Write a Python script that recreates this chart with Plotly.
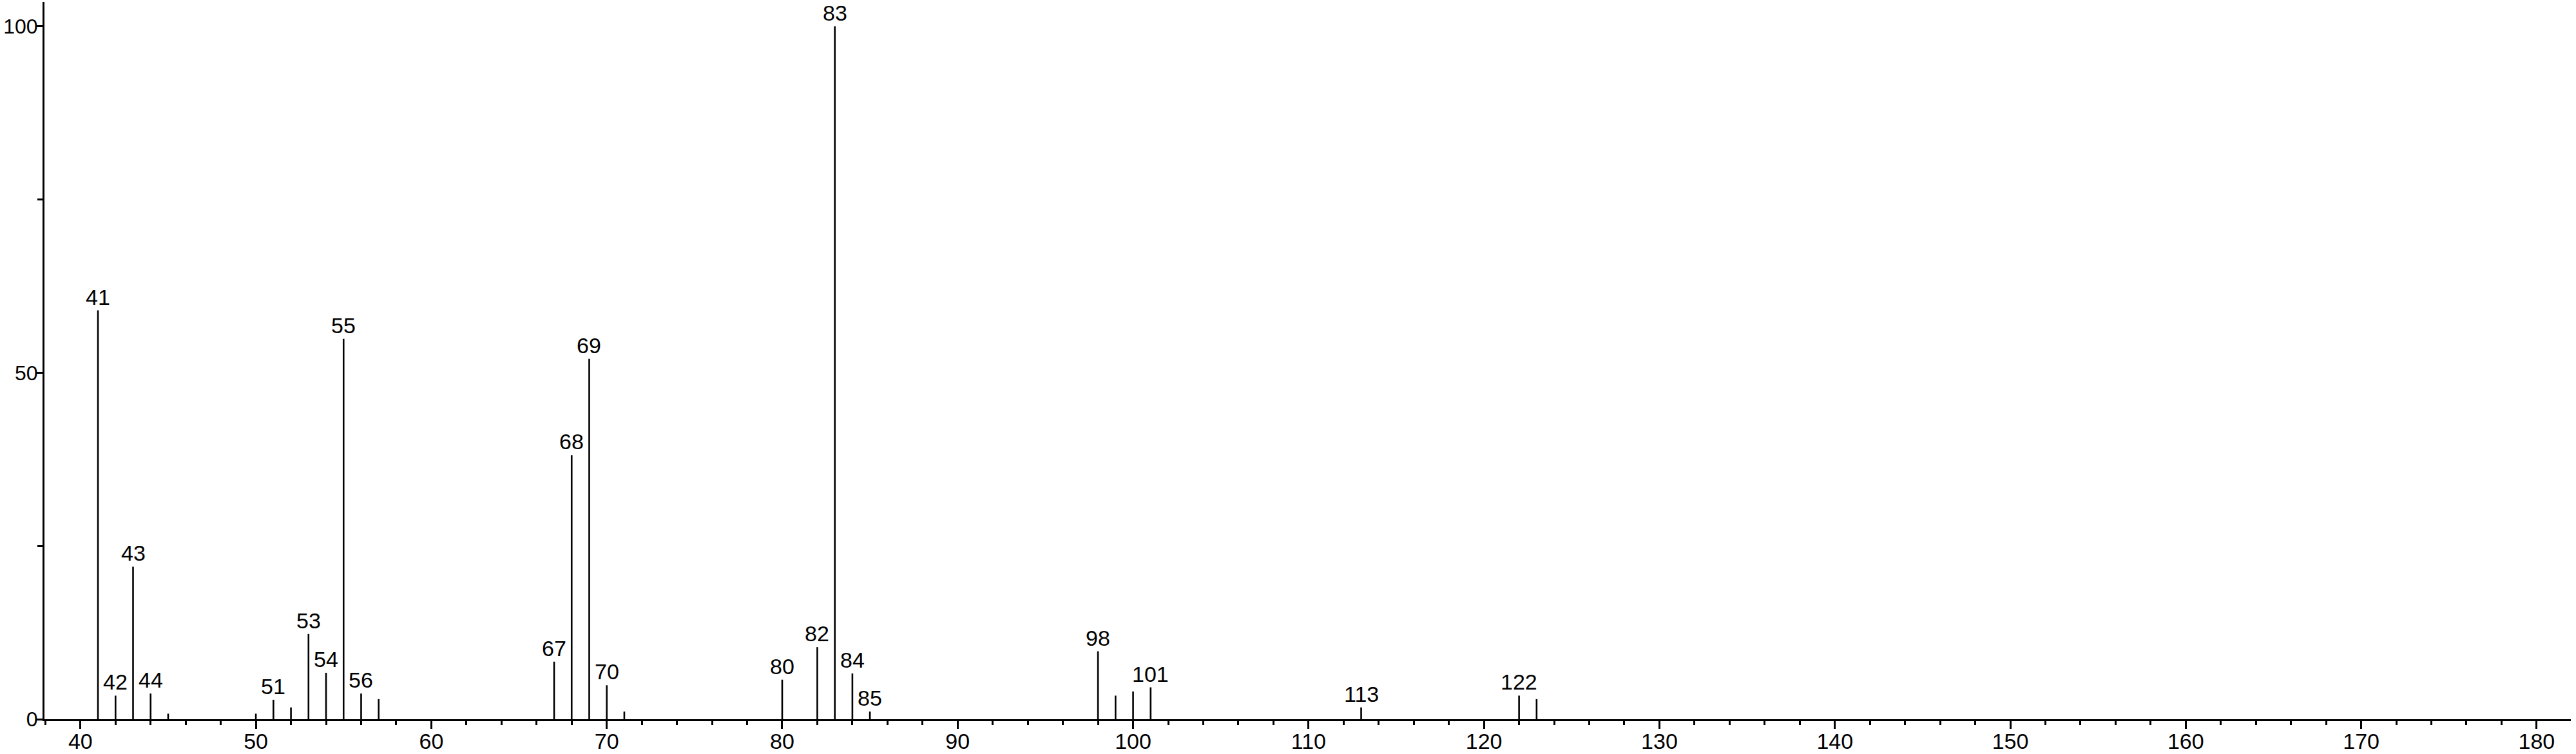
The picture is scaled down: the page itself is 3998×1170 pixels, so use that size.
import plotly.graph_objects as go

# m/z values and relative intensities
mz = [41, 42, 43, 44, 45, 50, 51, 52, 53, 54, 55, 56, 57,
      67, 68, 69, 70, 71, 80, 82, 83, 84, 85,
      98, 99, 100, 101, 113, 122, 123]
intensity = [59.0, 3.4, 22.0, 3.7, 0.8, 0.8, 2.8, 1.7, 12.3, 6.7, 54.9, 3.7, 2.9,
             8.3, 38.1, 52.0, 4.9, 1.1, 5.7, 10.4, 100.0, 6.6, 1.1,
             9.8, 3.4, 4.0, 4.6, 1.7, 3.4, 2.9]
labeled = [41, 42, 43, 44, 51, 53, 54, 55, 56, 67, 68, 69, 70, 80, 82, 83, 84, 85,
           98, 101, 113, 122]

x_ticks = list(range(40, 181, 10))
y_ticks = [0, 50, 100]

FONT = "Liberation Sans, Arial, sans-serif"

xs, ys = [], []
for m, v in zip(mz, intensity):
    xs += [m, m, None]
    ys += [0, v, None]

fig = go.Figure()
fig.add_trace(go.Scatter(x=xs, y=ys, mode="lines",
                         line=dict(color="black", width=2.6),
                         hoverinfo="skip", showlegend=False))

for m, v in zip(mz, intensity):
    if m in labeled:
        fig.add_annotation(x=m, y=v, text=str(m), showarrow=False,
                           yanchor="bottom", xanchor="center", yshift=1,
                           font=dict(family=FONT, size=34, color="black"),
                           bgcolor="white", borderpad=0)

fig.update_layout(
    width=3998, height=1170,
    margin=dict(l=69, r=8, t=3, b=54),
    paper_bgcolor="white", plot_bgcolor="white",
    font=dict(family=FONT, size=34, color="black"),
    showlegend=False,
)
fig.update_xaxes(range=[37.95, 181.95], tickvals=x_ticks, ticktext=[str(t) for t in x_ticks],
                 automargin=False,
                 showgrid=False, zeroline=False, showline=True, linecolor="black",
                 linewidth=3, ticks="outside", ticklen=12, tickwidth=3, tickcolor="black",
                 ticklabelstandoff=-10,
                 minor=dict(dtick=2, tick0=0, ticks="outside", ticklen=6, tickwidth=3,
                            tickcolor="black", showgrid=False),
                 tickfont=dict(family=FONT, size=34, color="black"))
fig.update_yaxes(range=[0, 103.5], tickvals=y_ticks, ticktext=[str(t) for t in y_ticks],
                 automargin=False,
                 showgrid=False, zeroline=False, showline=True, linecolor="black",
                 linewidth=3, ticks="outside", ticklen=10, tickwidth=3, tickcolor="black",
                 ticklabelstandoff=-9,
                 minor=dict(dtick=25, tick0=0, ticks="outside", ticklen=8, tickwidth=3,
                            tickcolor="black", showgrid=False),
                 tickfont=dict(family=FONT, size=32, color="black"))

fig.write_html("out.html", config={"displayModeBar": False},
               post_script="document.body.style.margin='0';document.body.style.overflow='hidden';")
